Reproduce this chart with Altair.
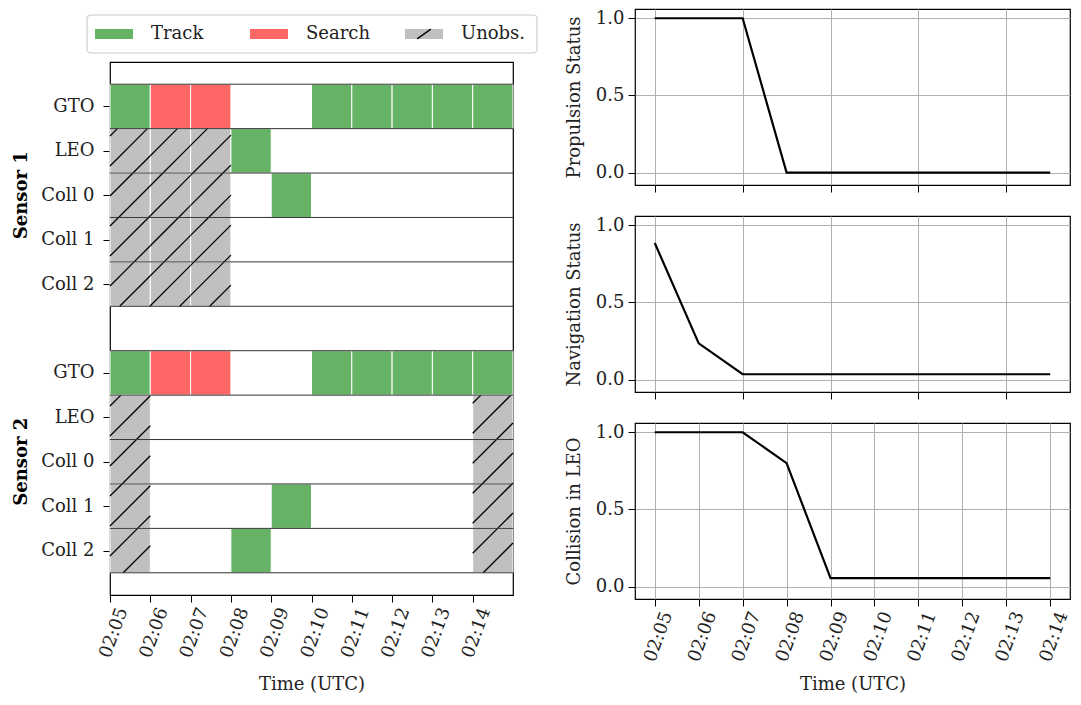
import altair as alt
import pandas as pd

FONT = "DejaVu Serif"
FS = 18

# ---------------- data ----------------
minutes = [0, 1, 2, 3, 4, 5, 6, 7, 8, 9]          # 02:05 ... 02:14 (each cell lasts one minute)
target_names = ["GTO", "LEO", "Coll 0", "Coll 1", "Coll 2"]

s1_gto   = ["Track", "Search", "Search", "", "", "Track", "Track", "Track", "Track", "Track"]
s1_leo   = ["Unobs.", "Unobs.", "Unobs.", "Track", "", "", "", "", "", ""]
s1_coll0 = ["Unobs.", "Unobs.", "Unobs.", "", "Track", "", "", "", "", ""]
s1_coll1 = ["Unobs.", "Unobs.", "Unobs.", "", "", "", "", "", "", ""]
s1_coll2 = ["Unobs.", "Unobs.", "Unobs.", "", "", "", "", "", "", ""]

s2_gto   = ["Track", "Search", "Search", "", "", "Track", "Track", "Track", "Track", "Track"]
s2_leo   = ["Unobs.", "", "", "", "", "", "", "", "", "Unobs."]
s2_coll0 = ["Unobs.", "", "", "", "", "", "", "", "", "Unobs."]
s2_coll1 = ["Unobs.", "", "", "", "Track", "", "", "", "", "Unobs."]
s2_coll2 = ["Unobs.", "", "", "Track", "", "", "", "", "", "Unobs."]

sensor_names = ["Sensor 1", "Sensor 2"]
sensor_rows = [[s1_gto, s1_leo, s1_coll0, s1_coll1, s1_coll2],
               [s2_gto, s2_leo, s2_coll0, s2_coll1, s2_coll2]]

propulsion = [1.0, 1.0, 1.0, 0.0, 0.0, 0.0, 0.0, 0.0, 0.0, 0.0]
navigation = [0.885, 0.235, 0.035, 0.035, 0.035, 0.035, 0.035, 0.035, 0.035, 0.035]
collision  = [1.0, 1.0, 1.0, 0.80, 0.055, 0.055, 0.055, 0.055, 0.055, 0.055]

states = ["Track", "Search", "Unobs."]
state_colors = ["#66b366", "#ff6666", "#c0c0c0"]

# ---------------- layout constants ----------------
GW, GH = 403, 533          # gantt plot area
X_DOM = [0, 10]
Y_DOM = [-1, 11]
SX = GW / (X_DOM[1] - X_DOM[0])
SY = GH / (Y_DOM[1] - Y_DOM[0])
HATCH_STEP = 30.0
HATCH_PHASE = 14.0

# ---------------- build tables ----------------
cells, row_ticks, row_labels = [], [], {}
for si, rows in enumerate(sensor_rows):
    for ti, series in enumerate(rows):
        r = si * 6 + ti
        row_ticks.append(r)
        row_labels[r] = target_names[ti]
        for m, st in zip(minutes, series):
            if st:
                cells.append({"x": m, "x2": m + 1, "y": r - 0.5, "y2": r + 0.5, "state": st})
cells_df = pd.DataFrame(cells)

# hatch segments for unobserved cells (lines at 45 degrees in screen space)
hatch = []
for c in cells:
    if c["state"] != "Unobs.":
        continue
    X0, X1 = c["x"] * SX, c["x2"] * SX
    Y0, Y1 = (c["y"] - Y_DOM[0]) * SY, (c["y2"] - Y_DOM[0]) * SY
    k = int((X0 + Y0 - HATCH_PHASE) // HATCH_STEP) - 1
    while True:
        cc = HATCH_PHASE + k * HATCH_STEP
        k += 1
        if cc > X1 + Y1:
            break
        xa, xb = max(X0, cc - Y1), min(X1, cc - Y0)
        if xb - xa <= 0.5:
            continue
        hatch.append({"x": xa / SX, "x2": xb / SX,
                      "y": (cc - xa) / SY + Y_DOM[0], "y2": (cc - xb) / SY + Y_DOM[0]})
hatch_df = pd.DataFrame(hatch)

bounds_df = pd.DataFrame({"b": sorted(set([r - 0.5 for r in row_ticks] + [r + 0.5 for r in row_ticks]))})
sensor_df = pd.DataFrame({"label": sensor_names, "row": [2, 8]})

label_expr = "{" + ",".join(f"'{k}':'{v}'" for k, v in row_labels.items()) + "}[datum.value]"
time_expr = "'02:' + (datum.value + 5 < 10 ? '0' : '') + (datum.value + 5)"

xs = alt.Scale(domain=X_DOM, nice=False, zero=False)
ys = alt.Scale(domain=Y_DOM, nice=False, zero=False, reverse=True)
cs = alt.Scale(domain=states, range=state_colors)

x_axis = alt.Axis(values=minutes, labelExpr=time_expr, labelAngle=-70, labelAlign="right",
                  labelBaseline="top", labelOffset=4, title="Time (UTC)", grid=False, tickSize=7,
                  labelPadding=3, titlePadding=16)
y_axis = alt.Axis(values=row_ticks, labelExpr=label_expr, grid=False, tickSize=7, title=None,
                  labelPadding=9)

base = alt.Chart(cells_df)
rects = base.mark_rect(stroke="white", strokeWidth=1).encode(
    x=alt.X("x:Q", scale=xs, axis=x_axis),
    x2="x2:Q",
    y=alt.Y("y:Q", scale=ys, axis=y_axis),
    y2="y2:Q",
    color=alt.Color("state:N", scale=cs, legend=None),
)
hatch_layer = alt.Chart(hatch_df).mark_rule(color="black", strokeWidth=1.3).encode(
    x=alt.X("x:Q", scale=xs), x2="x2:Q", y=alt.Y("y:Q", scale=ys), y2="y2:Q")
bound_layer = alt.Chart(bounds_df).mark_rule(color="#333333", strokeWidth=1).encode(
    y=alt.Y("b:Q", scale=ys))
sensor_layer = alt.Chart(sensor_df).mark_text(
    angle=270, font=FONT, fontSize=FS, fontWeight="bold", color="black", baseline="middle"
).encode(y=alt.Y("row:Q", scale=ys), x=alt.value(-88), text="label:N")

gantt = alt.layer(rects, hatch_layer, bound_layer, sensor_layer).properties(width=GW, height=GH)

# ---------------- legend ----------------
leg_df = pd.DataFrame({"state": states})
lx = alt.X("state:N", sort=states, axis=None,
           scale=alt.Scale(type="point", range=[4, 314], padding=0))
leg_frame = alt.Chart(pd.DataFrame({"f": [0]})).mark_rect(
    fill="white", stroke="#cccccc", strokeWidth=1.2, cornerRadius=4
).encode(x=alt.value(-23), x2=alt.value(427), y=alt.value(6), y2=alt.value(44))
leg_sw = alt.Chart(leg_df).mark_point(
    shape="M-1,-0.263H1V0.263H-1Z", size=1444, filled=True, opacity=1, strokeWidth=0
).encode(x=lx, y=alt.value(25), color=alt.Color("state:N", scale=cs, legend=None))
leg_slash = alt.Chart(pd.DataFrame({"state": ["Unobs."]})).mark_point(
    shape="M-0.36,0.26L0.36,-0.26", size=1444, filled=False, color="black", strokeWidth=1.4, opacity=1
).encode(x=lx, y=alt.value(25))
leg_txt = alt.Chart(leg_df).mark_text(
    align="left", baseline="middle", dx=37, font=FONT, fontSize=FS, color="#222222"
).encode(x=lx, y=alt.value(25), text="state:N")
legend = alt.layer(leg_frame, leg_sw, leg_slash, leg_txt).properties(
    width=GW, height=44, view=alt.ViewBackground(stroke="transparent"))

# ---------------- right panels ----------------
lx_scale = alt.Scale(domain=[-0.45, 9.45], nice=False, zero=False)
ly_scale = alt.Scale(domain=[-0.08, 1.06], nice=False, zero=False)


def panel(values, title, bottom, ticks):
    df = pd.DataFrame({"t": minutes, "v": values})
    if bottom:
        xa = alt.Axis(values=ticks, labelExpr=time_expr, labelAngle=-70, labelAlign="right",
                      labelBaseline="top", labelOffset=4, title="Time (UTC)", tickSize=7,
                      labelPadding=3, titlePadding=12, gridColor="#b0b0b0")
    else:
        xa = alt.Axis(values=ticks, labels=False, title=None, tickSize=7, gridColor="#b0b0b0")
    return alt.Chart(df).mark_line(color="black", strokeWidth=2.2).encode(
        x=alt.X("t:Q", scale=lx_scale, axis=xa),
        y=alt.Y("v:Q", scale=ly_scale,
                axis=alt.Axis(values=[0, 0.5, 1.0], format=".1f", title=title, tickSize=7,
                              labelPadding=4, gridColor="#b0b0b0", titlePadding=12)),
    ).properties(width=435, height=176)


right = alt.vconcat(
    panel(propulsion, "Propulsion Status", False, [0, 2, 4, 6, 8]),
    panel(navigation, "Navigation Status", False, [0, 2, 4, 6, 8]),
    panel(collision, "Collision in LEO", True, minutes),
    spacing=21,
)

left = alt.vconcat(legend, gantt, spacing=6)

chart = alt.hconcat(left, right, spacing=25).properties(
    padding={"left": 4, "top": 0, "right": 0, "bottom": 0}
).configure(
    font=FONT
).configure_view(
    stroke="black", strokeWidth=1.2
).configure_axis(
    labelFont=FONT, titleFont=FONT, labelFontSize=FS, titleFontSize=FS,
    labelColor="#222222", titleColor="#222222", titleFontWeight="normal",
    domainColor="black", tickColor="black", domain=False, gridWidth=1,
)

chart.save("out.html", embed_options={"renderer": "svg", "actions": False})
